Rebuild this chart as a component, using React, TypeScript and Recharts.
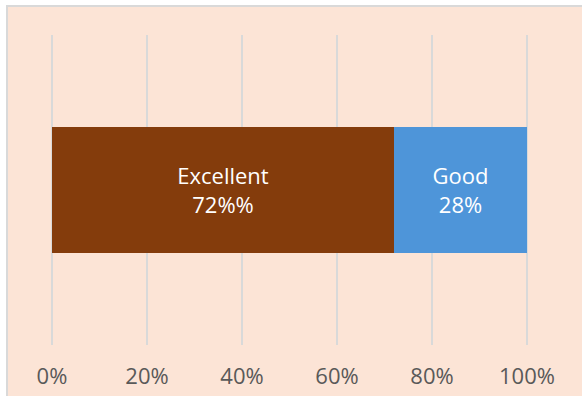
import { BarChart, Bar, XAxis, YAxis, CartesianGrid, LabelList } from "recharts"

const categories = ["Rating"]
const seriesNames = ["Excellent", "Good"]
const seriesValues = [0.72, 0.28]
const seriesLabels = ["72%%", "28%"]
const seriesColors = ["#843C0C", "#4E95D9"]
const xTicks = [0, 0.2, 0.4, 0.6, 0.8, 1]

const data = categories.map((c) => {
  const row: Record<string, string | number> = { category: c }
  seriesNames.forEach((name, i) => {
    row[name] = seriesValues[i]
  })
  return row
})

const FONT = "'Open Sans', sans-serif"

function makeLabel(name: string, text: string) {
  return (props: any) => {
    const { x, y, width, height } = props
    const cx = x + width / 2
    const cy = y + height / 2
    return (
      <text x={cx} textAnchor="middle" fill="#ffffff" fontSize={22} fontFamily={FONT}>
        <tspan x={cx} y={cy - 6}>{name}</tspan>
        <tspan x={cx} y={cy + 23}>{text}</tspan>
      </text>
    )
  }
}

export default function App() {
  return (
    <div style={{ position: "fixed", inset: 0, overflow: "hidden", background: "#ffffff" }}>
      <div
        style={{
          position: "absolute",
          left: 6,
          top: 5,
          width: 620,
          height: 440,
          border: "2px solid #D9D9D9",
          background: "#FCE4D6",
        }}
      />
      <div style={{ position: "absolute", left: 0, top: 0 }}>
        <BarChart
          width={582}
          height={396}
          data={data}
          layout="vertical"
          margin={{ top: 35, right: 55, bottom: 0, left: 52 }}
          barCategoryGap={92}
        >
          <CartesianGrid horizontal={false} stroke="#D9D9D9" strokeWidth={2} />
          <XAxis
            type="number"
            domain={[0, 1]}
            ticks={xTicks}
            tickFormatter={(v: number) => `${Math.round(v * 100)}%`}
            axisLine={false}
            tickLine={false}
            tickSize={0}
            tickMargin={23}
            height={51}
            interval={0}
            tick={{ fontSize: 22, fill: "#595959", fontFamily: FONT }}
          />
          <YAxis type="category" dataKey="category" hide />
          {seriesNames.map((name, i) => (
            <Bar key={name} dataKey={name} stackId="a" fill={seriesColors[i]} isAnimationActive={false}>
              <LabelList dataKey={name} content={makeLabel(name, seriesLabels[i])} />
            </Bar>
          ))}
        </BarChart>
      </div>
    </div>
  )
}
